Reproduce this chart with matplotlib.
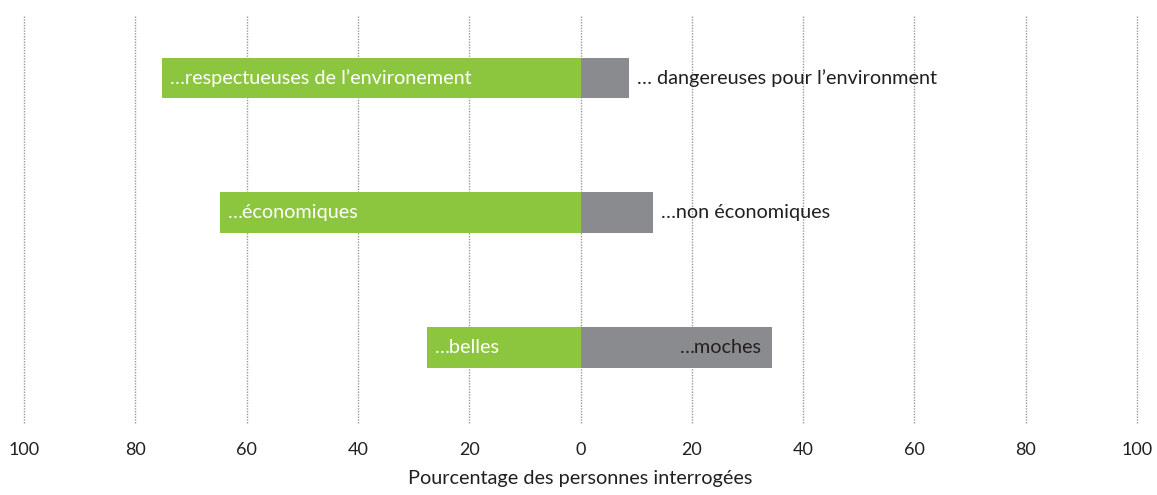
import numpy as np
import matplotlib.pyplot as plt

## Données
positif = ["…respectueuses de l’environement", "…économiques", "…belles"]
negatif = ["… dangereuses pour l’environment", "…non économiques", "…moches"]
val_pos = [75.2, 64.8, 27.6]   # barres vertes (à gauche)
val_neg = [8.7, 13.0, 34.4]    # barres grises (à droite)
ticks = [-100, -80, -60, -40, -20, 0, 20, 40, 60, 80, 100]
tick_labels = [str(abs(t)) for t in ticks]

vert = "#8CC63F"
gris = "#8A8B8E"
noir = "#231F20"

plt.rcParams['font.family'] = ['Lato', 'DejaVu Sans']

fig = plt.figure(figsize=(11.57, 4.95), dpi=100)
W, H = 1157, 495
ax = fig.add_axes([24 / W, 1 - 423 / H, (1137 - 24) / W, (423 - 15) / H])

y = np.arange(len(positif))
h = 0.304
ax.barh(y, [-v for v in val_pos], height=h, color=vert, zorder=2)
ax.barh(y, val_neg, left=0, height=h, color=gris, zorder=2)

fs = 14.3
for i in range(len(y)):
    # libellé dans la barre verte
    ax.annotate(positif[i], (-val_pos[i], y[i]), xytext=(6, 0), textcoords='offset points',
                ha='left', va='center', color='white', fontsize=fs, zorder=3)
    # libellé de la barre grise : dedans si assez large
    if val_neg[i] > 25:
        ax.annotate(negatif[i], (val_neg[i], y[i]), xytext=(-7, 0), textcoords='offset points',
                    ha='right', va='center', color=noir, fontsize=fs, zorder=3)
    else:
        ax.annotate(negatif[i], (val_neg[i], y[i]), xytext=(6, 0), textcoords='offset points',
                    ha='left', va='center', color=noir, fontsize=fs, zorder=3)

ax.set_xlim(-100, 100)
ax.set_ylim(2.56, -0.4675)
ax.set_xticks(ticks)
ax.set_xticklabels(tick_labels, fontsize=13, color=noir)
ax.set_yticks([])
ax.tick_params(axis='x', length=0, pad=14)
ax.grid(axis='x', linestyle=(0, (1, 1)), color='#999999', linewidth=1, zorder=0)
for l in ax.get_xgridlines():
    l.set_clip_on(False)
ax.set_axisbelow(True)
for s in ax.spines.values():
    s.set_visible(False)
ax.set_xlabel("Pourcentage des personnes interrogées", fontsize=fs, color=noir, labelpad=8)

fig.savefig("out.png", dpi=100)
